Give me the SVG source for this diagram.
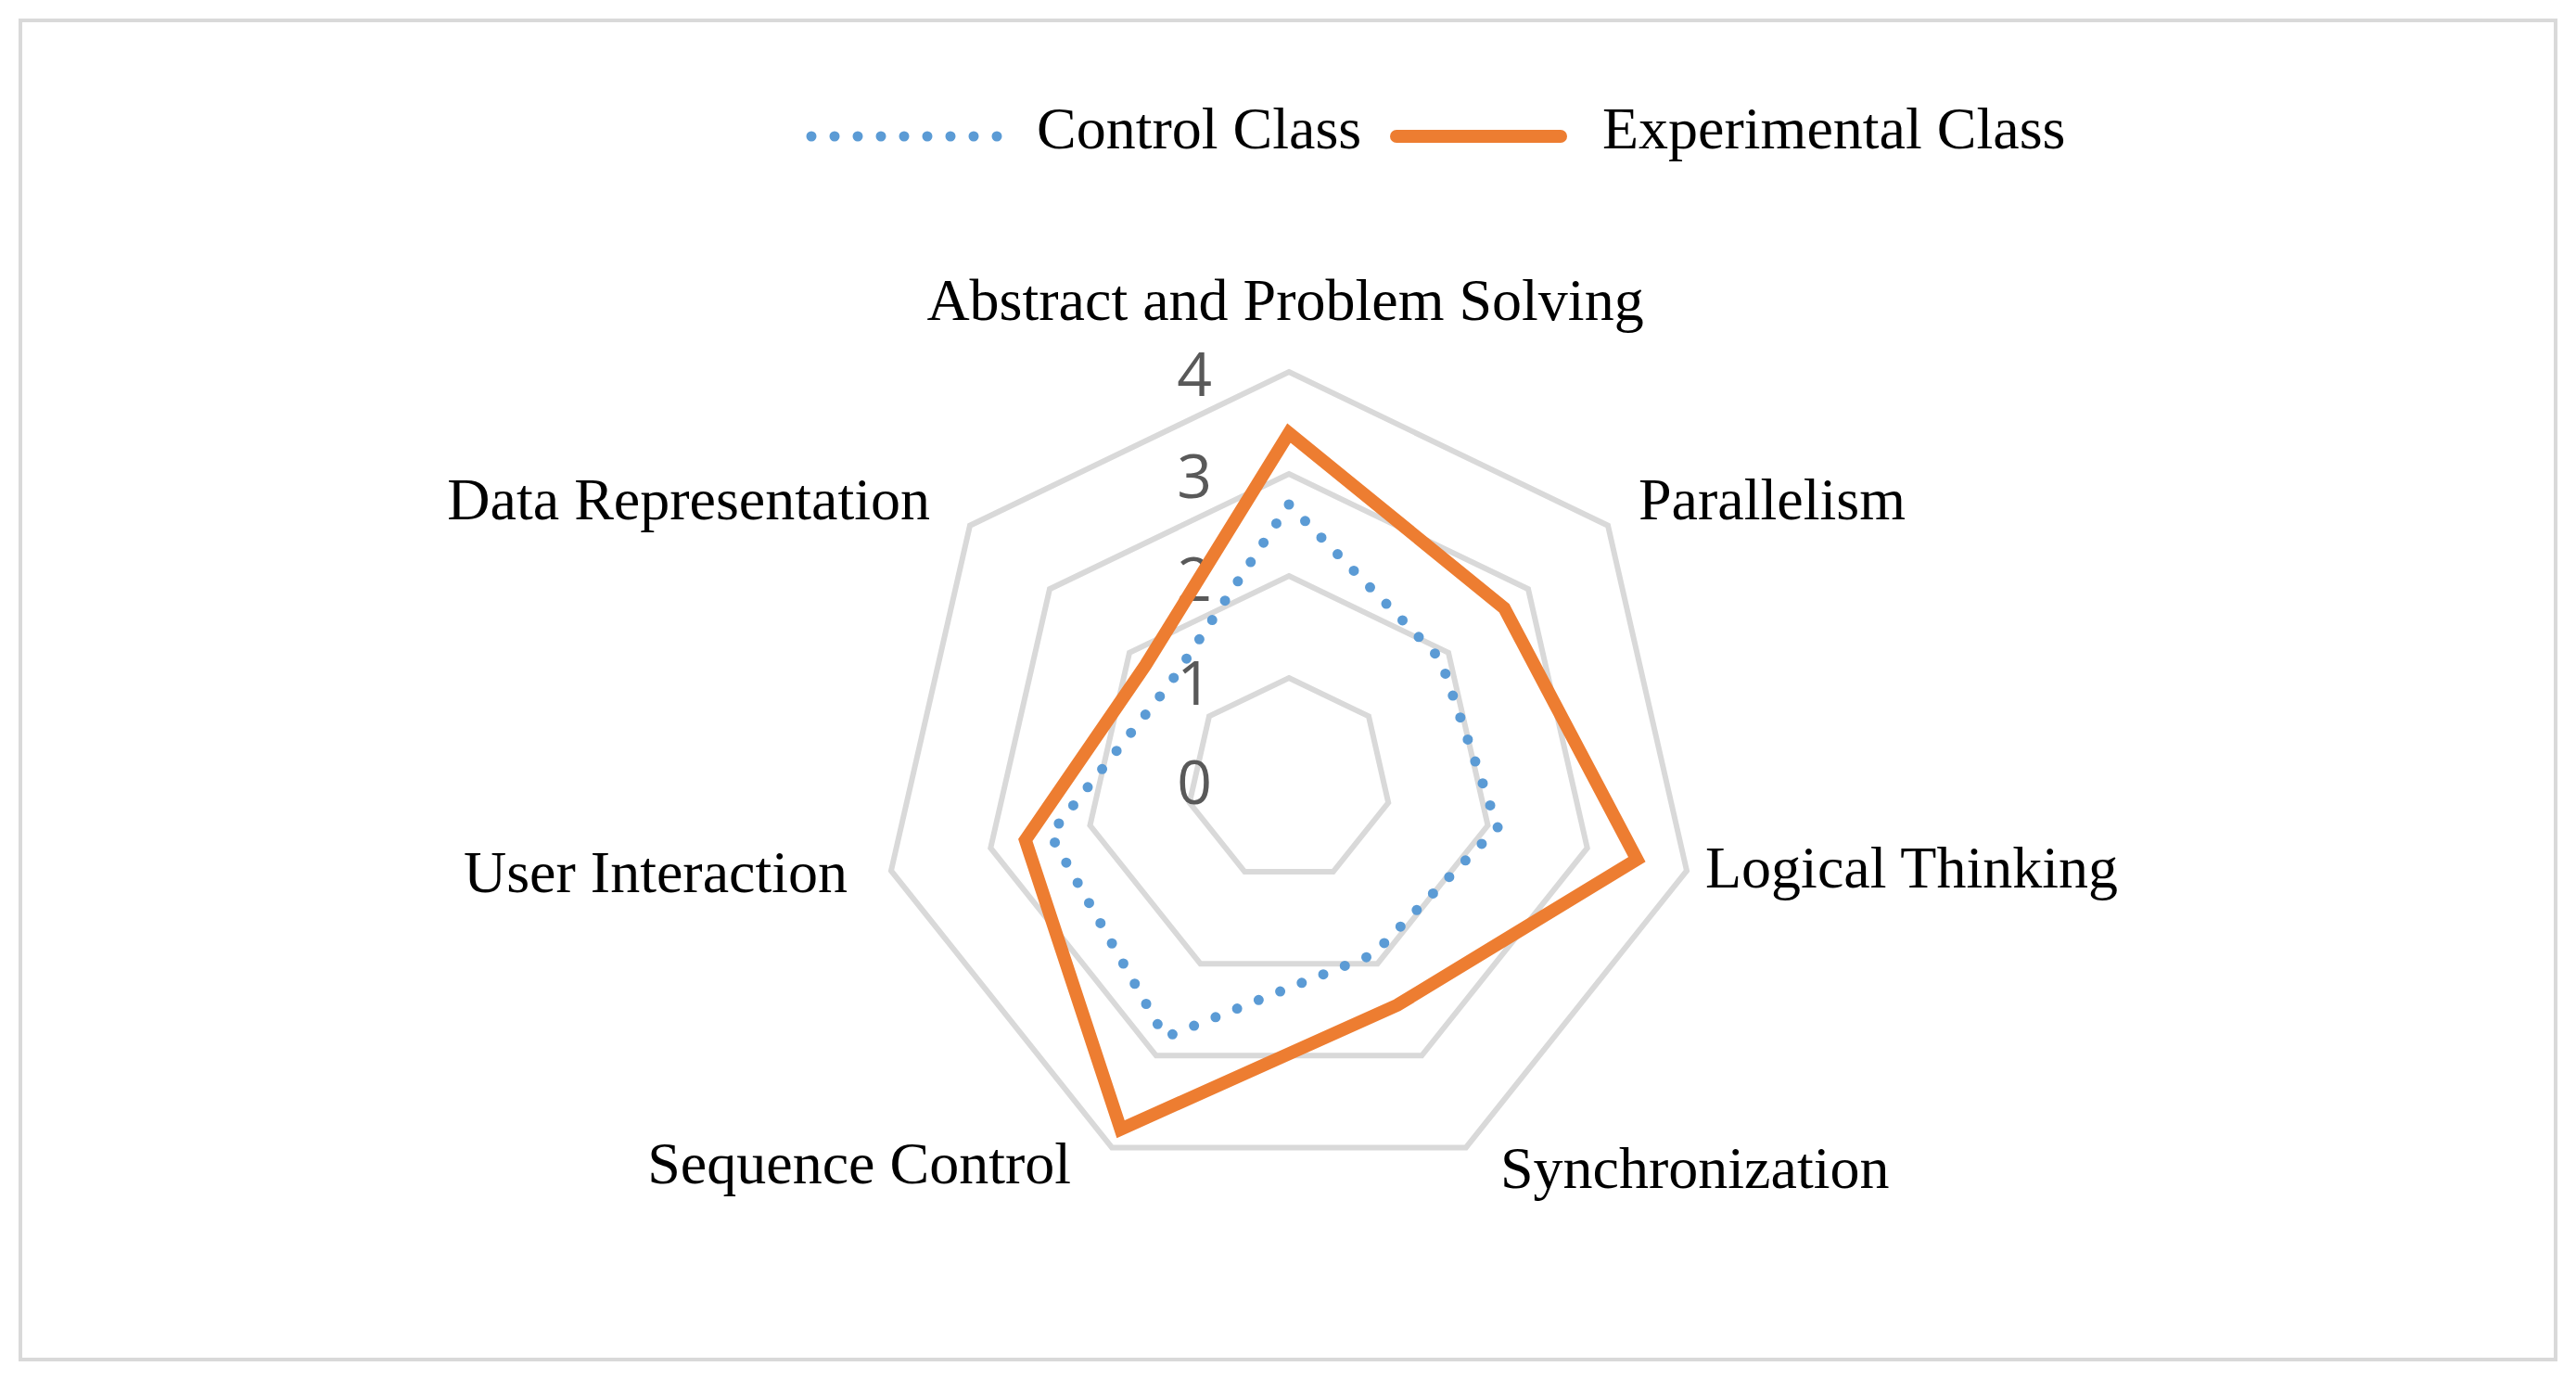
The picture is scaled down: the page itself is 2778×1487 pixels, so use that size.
<svg xmlns="http://www.w3.org/2000/svg" width="2778" height="1487" viewBox="0 0 2778 1487">
<style>
.grid{fill:none;stroke:#d9d9d9;stroke-width:6}
.lbl{font-family:"Liberation Serif",serif;font-size:64px;fill:#000}
.tick{font-family:"Open Sans","Liberation Sans",sans-serif;font-size:66px;fill:#595959}
.exp{fill:none;stroke:#ed7d31;stroke-width:14;stroke-linejoin:miter}
.ctl{fill:none;stroke:#5b9bd5;stroke-width:11;stroke-linecap:round;stroke-dasharray:0 25}
</style>
<rect x="0" y="0" width="2778" height="1487" fill="#fff"/>
<rect x="22" y="22" width="2734" height="1444" fill="#fff" stroke="#d9d9d9" stroke-width="4"/>
<g id="grid">
<polygon class="grid" points="1390,731 1476,772.4 1497.2,865.5 1437.7,940.1 1342.3,940.1 1282.8,865.5 1304,772.4"/>
<polygon class="grid" points="1390,621 1562,703.8 1604.5,890 1485.5,1039.2 1294.5,1039.2 1175.5,890 1218,703.8"/>
<polygon class="grid" points="1390,511 1648,635.2 1711.7,914.4 1533.2,1138.3 1246.8,1138.3 1068.3,914.4 1132,635.2"/>
<polygon class="grid" points="1390,401 1734,566.7 1819,938.9 1580.9,1237.4 1199.1,1237.4 961,938.9 1046,566.7"/>
</g>
<g id="ticks">
<text class="tick" x="1288" y="427" text-anchor="middle">4</text>
<text class="tick" x="1288" y="537" text-anchor="middle">3</text>
<text class="tick" x="1288" y="648" text-anchor="middle">2</text>
<text class="tick" x="1288" y="760" text-anchor="middle">1</text>
<text class="tick" x="1288" y="867" text-anchor="middle">0</text>
</g>
<g id="series">
<polygon id="control" class="ctl" points="1390,544 1553.4,710.7 1615.2,892.4 1480.7,1029.3 1256.4,1118.5 1132.6,899.7 1261,738.1"/>
<polygon id="experimental" class="exp" points="1390,467 1622.2,655.8 1765.3,926.7 1506.9,1083.8 1208.6,1217.6 1105.8,905.9 1235.2,717.5"/>
</g>
<g id="labels">
<text class="lbl" x="1386" y="345" text-anchor="middle">Abstract and Problem Solving</text>
<text class="lbl" x="1767" y="560">Parallelism</text>
<text class="lbl" x="1839" y="957">Logical Thinking</text>
<text class="lbl" x="1618" y="1281">Synchronization</text>
<text class="lbl" x="1155" y="1276" text-anchor="end">Sequence Control</text>
<text class="lbl" x="914" y="962" text-anchor="end">User Interaction</text>
<text class="lbl" x="1003" y="560" text-anchor="end">Data Representation</text>
</g>
<g id="legend">
<line class="ctl" x1="875" y1="147" x2="1085" y2="147"/>
<text class="lbl" x="1118" y="160">Control Class</text>
<line class="exp" x1="1506" y1="147" x2="1683" y2="147" stroke-linecap="round"/>
<text class="lbl" x="1728" y="160">Experimental Class</text>
</g>
</svg>
